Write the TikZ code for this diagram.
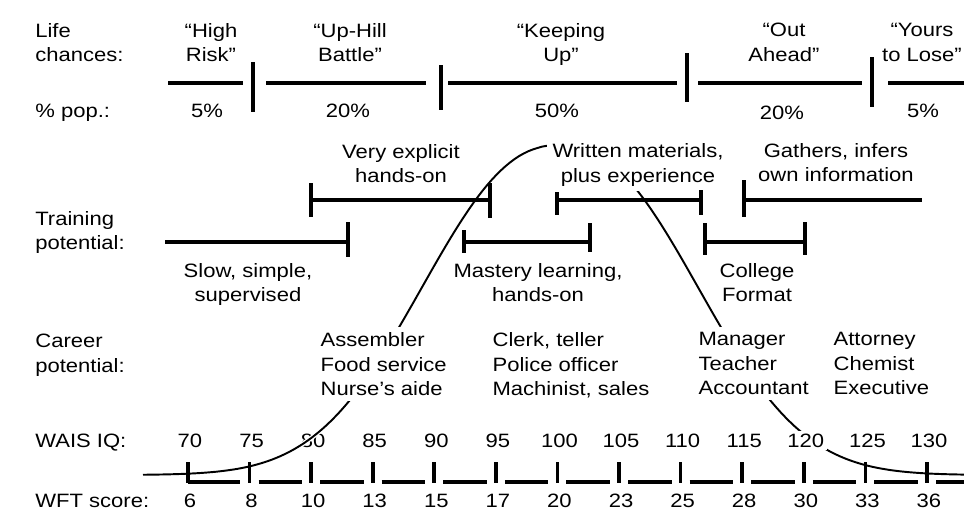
\documentclass[tikz,border=0pt]{standalone}
\usepackage{fontspec}
\setmainfont[FakeStretch=1.14]{Liberation Sans}
\tikzstyle{rowlabel} = [anchor=north west, align=left, inner sep=0pt]
\tikzstyle{caption} = [anchor=north, align=center, inner sep=0pt]
\tikzstyle{joblist} = [anchor=north west, align=left, inner sep=3pt, fill=white]
\tikzstyle{num} = [anchor=base, inner sep=0pt]
\tikzstyle{cover} = [fill=white, inner sep=3pt]
\tikzstyle{lifebar} = [line width=2.5pt]
\tikzstyle{bar} = [line width=2pt]
\tikzstyle{axis} = [line width=2.1pt]

\begin{document}
\begin{tikzpicture}[x=0.02cm, y=-0.02cm, every node/.style={font=\fontsize{11}{13.9}\selectfont}]
    \useasboundingbox (0,0) rectangle (964,521);
    % row labels
    \node[rowlabel] (life) at (35,23) {Life\\chances:};
    \node[num, anchor=base west] (pop) at (35,117) {\% pop.:};
    \node[rowlabel] (train) at (35,211) {Training\\potential:};
    \node[rowlabel] (career) at (35,334) {Career\\potential:};
    \node[num, anchor=base west] (wais) at (35,447) {WAIS IQ:};
    \node[num, anchor=base west] (wft) at (35,507) {WFT score:};

    % IQ scale numbers (120 comes after the curve)
    \foreach \v/\i in {70/0,75/1,80/2,85/3,90/4,95/5,100/6,105/7,110/8,115/9,125/11,130/12}
        \node[num] (iq\v) at ({190+61.58*\i},447) {\v};
    \foreach \v [count=\i from 0] in {6,8,10,13,15,17,20,23,25,28,30,33,36}
        \node[num] (wft\v) at ({190+61.58*\i},507) {\v};

    % the bell curve
    \draw[line width=1.1pt, preaction={draw=white, line width=2.6pt}]
        plot[domain=143:964, samples=180] (\x, {475-330*exp(-1*pow((abs(\x-560)+0.01)/177,2.3))});

    \node[num, fill=white, inner sep=1.5pt] (iq120) at ({190+61.58*10},447) {120};

    % life chances
    \node[caption] (risk) at (211,23) {“High\\Risk”};
    \node[caption] (uphill) at (350,23) {“Up-Hill\\Battle”};
    \node[caption] (keeping) at (561,23) {“Keeping\\Up”};
    \node[caption] (ahead) at (784,23) {“Out\\Ahead”};
    \node[caption] (yours) at (922,23) {“Yours\\to Lose”};
    \node[num] (p5a) at (207,117) {5\%};
    \node[num] (p20a) at (348,117) {20\%};
    \node[num] (p50) at (557,117) {50\%};
    \node[num] (p20b) at (782,119) {20\%};
    \node[num] (p5b) at (923,117) {5\%};
    \foreach \a/\b in {168/243,266/426,448/677,698/862,888/964}
        \draw[lifebar] (\a,83) -- (\b,83);
    \foreach \x/\t/\u in {253/62/112,441/65/110,687/53/102,872/57/107}
        \draw[lifebar] (\x,\t) -- (\x,\u);

    % training potential
    \node[caption] (explicit) at (401,144) {Very explicit\\hands-on};
    \node[caption, cover] (written) at (638,138) {Written materials,\\plus experience};
    \node[caption] (gathers) at (836,143) {Gathers, infers\\own information};
    \node[caption] (slow) at (248,263) {Slow, simple,\\supervised};
    \node[caption] (mastery) at (538,263) {Mastery learning,\\hands-on};
    \node[caption] (college) at (757,263) {College\\Format};
    \draw[bar] (311,183) -- (311,217) (311,200) -- (490,200) (490,183) -- (490,218);
    \draw[bar] (165,242) -- (348,242) (348,222) -- (348,257);
    \draw[bar] (464,230) -- (464,253) (464,242) -- (590,242) (590,223) -- (590,252);
    \draw[bar] (557,192) -- (557,215) (557,200) -- (701,200) (701,190) -- (701,215);
    \draw[bar] (744,180) -- (744,217) (744,200) -- (922,200);
    \draw[bar] (705,223) -- (705,255) (705,242) -- (805,242) (805,222) -- (805,255);

    % career potential
    \node[joblist] (assembler) at (315,327) {Assembler\\Food service\\Nurse’s aide};
    \node[joblist] (clerk) at (487,327) {Clerk, teller\\Police officer\\Machinist, sales};
    \node[joblist] (manager) at (693,327) {Manager\\Teacher\\Accountant};
    \node[joblist] (attorney) at (828,327) {Attorney\\Chemist\\Executive};

    % score axis
    \foreach \i in {0,...,12}
        \draw[axis] ({188+61.58*\i},462) -- ({188+61.58*\i},483);
    \draw[axis] (188,482) -- (240,482);
    \foreach \i in {1,...,11}
        \draw[axis] ({188+61.58*\i+9},482) -- ({188+61.58*(\i+1)-9},482);
    \draw[axis] (936,482) -- (964,482);
\end{tikzpicture}
\end{document}
